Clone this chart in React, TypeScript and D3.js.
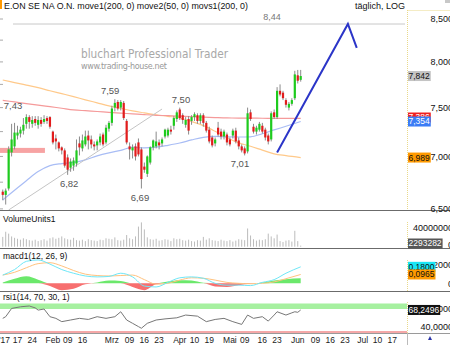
import React, { useEffect, useRef } from "react";
import * as d3 from "d3";

// daily candles, 09.01.2017 .. 02.06.2017
const opens = [
  6.66, 6.63, 6.69, 7.04, 7.1, 7.21, 7.23, 7.26, 7.33, 7.4, 7.33, 7.38, 7.32, 7.37, 7.35, 7.39, 7.4,
  7.25, 7.18, 7.14, 7.09, 7.06, 6.99, 6.89, 6.91, 6.93, 7.13, 7.08, 7.12, 7.21, 7.17, 7.12, 7.11, 7.14,
  7.22, 7.14, 7.28, 7.34, 7.5, 7.56, 7.5, 7.55, 7.36, 7.1, 7.06, 7.1, 7.14, 7.07, 6.9, 6.83, 6.94, 7.09,
  7.1, 7.14, 7.13, 7.2, 7.21, 7.27, 7.31, 7.38, 7.48, 7.42, 7.32, 7.38, 7.36, 7.4, 7.42, 7.36, 7.42,
  7.34, 7.27, 7.19, 7.13, 7.29, 7.25, 7.2, 7.22, 7.17, 7.21, 7.26, 7.16, 7.1, 7.08, 7.05, 7.45, 7.3,
  7.25, 7.27, 7.31, 7.27, 7.21, 7.17, 7.45, 7.4, 7.68, 7.66, 7.58, 7.5, 7.54, 7.6, 7.85, 7.8,
];
const highs = [
  6.68, 6.69, 7.1, 7.33, 7.34, 7.31, 7.3, 7.39, 7.43, 7.42, 7.41, 7.41, 7.41, 7.4, 7.42, 7.41, 7.41,
  7.26, 7.22, 7.15, 7.1, 7.08, 7.02, 6.98, 6.99, 7.17, 7.2, 7.22, 7.26, 7.26, 7.21, 7.15, 7.17, 7.23,
  7.24, 7.32, 7.36, 7.52, 7.59, 7.58, 7.58, 7.57, 7.38, 7.14, 7.12, 7.13, 7.18, 7.09, 6.94, 7.01, 7.1,
  7.17, 7.25, 7.17, 7.19, 7.28, 7.29, 7.31, 7.41, 7.47, 7.5, 7.44, 7.4, 7.41, 7.42, 7.45, 7.44, 7.44,
  7.44, 7.36, 7.3, 7.21, 7.19, 7.35, 7.28, 7.27, 7.24, 7.19, 7.28, 7.29, 7.19, 7.12, 7.1, 7.5, 7.48,
  7.33, 7.31, 7.35, 7.34, 7.29, 7.23, 7.46, 7.48, 7.72, 7.75, 7.68, 7.6, 7.56, 7.6, 7.9, 7.91, 7.91,
];
const lows = [
  6.58, 6.54, 6.67, 7.0, 7.07, 7.17, 7.19, 7.22, 7.28, 7.28, 7.29, 7.31, 7.28, 7.3, 7.33, 7.33, 7.28,
  7.12, 7.07, 7.05, 7.02, 6.89, 6.82, 6.85, 6.86, 6.9, 7.01, 7.05, 7.1, 7.07, 7.08, 7.06, 7.06, 7.11,
  7.1, 7.12, 7.25, 7.31, 7.46, 7.47, 7.47, 7.37, 7.12, 6.97, 6.98, 6.96, 7.0, 6.69, 6.84, 6.8, 6.92,
  7.06, 7.08, 7.07, 7.1, 7.18, 7.19, 7.22, 7.27, 7.35, 7.37, 7.33, 7.29, 7.22, 7.32, 7.36, 7.33, 7.33,
  7.3, 7.24, 7.13, 7.09, 7.1, 7.2, 7.17, 7.17, 7.11, 7.1, 7.18, 7.13, 7.07, 7.04, 7.01, 7.03, 7.36,
  7.23, 7.22, 7.25, 7.23, 7.16, 7.12, 7.15, 7.38, 7.38, 7.62, 7.58, 7.5, 7.47, 7.52, 7.58, 7.76, 7.78,
];
const closes = [
  6.63, 6.67, 7.07, 7.17, 7.24, 7.24, 7.27, 7.32, 7.4, 7.35, 7.37, 7.34, 7.37, 7.33, 7.38, 7.36, 7.3,
  7.14, 7.15, 7.08, 7.06, 6.91, 6.87, 6.95, 6.96, 7.06, 7.09, 7.16, 7.2, 7.16, 7.12, 7.1, 7.15, 7.2,
  7.12, 7.29, 7.34, 7.49, 7.55, 7.49, 7.56, 7.39, 7.14, 7.07, 7.09, 7.0, 7.02, 6.78, 6.87, 7.0, 7.09,
  7.16, 7.15, 7.11, 7.17, 7.27, 7.27, 7.25, 7.39, 7.45, 7.39, 7.37, 7.37, 7.26, 7.4, 7.43, 7.36, 7.42,
  7.34, 7.26, 7.15, 7.11, 7.17, 7.22, 7.2, 7.25, 7.14, 7.12, 7.26, 7.15, 7.1, 7.06, 7.03, 7.44, 7.38,
  7.25, 7.29, 7.33, 7.25, 7.19, 7.15, 7.44, 7.4, 7.68, 7.64, 7.6, 7.53, 7.54, 7.58, 7.86, 7.79, 7.842,
];
// volume in millions
const volumes = [
  21, 32, 28, 22, 19, 17, 15, 18, 16, 14, 13, 15, 12, 14, 16, 13, 18, 20, 17, 19, 22, 18, 16, 15, 19,
  14, 13, 15, 12, 16, 14, 13, 12, 15, 14, 18, 17, 16, 20, 14, 13, 15, 25, 18, 16, 22, 43, 52, 37, 20,
  16, 15, 17, 13, 14, 16, 15, 12, 18, 16, 17, 14, 13, 15, 12, 11, 14, 13, 21, 15, 18, 14, 13, 12, 15,
  13, 12, 14, 11, 13, 16, 15, 14, 39, 24, 16, 13, 15, 14, 16, 28, 22, 18, 26, 12, 10, 13, 14, 11, 34,
  12, 2.293282,
];

// indicator samples (candle index)
const sampleIdx = [0, 4, 8, 12, 16, 20, 24, 28, 32, 36, 40, 44, 48, 52, 56, 60, 64, 68, 72, 76, 80, 84, 88, 92, 96, 101];
const move1 = [
  7.577, 7.56, 7.543, 7.527, 7.51, 7.493, 7.476, 7.467, 7.459, 7.45, 7.442, 7.434, 7.426, 7.419, 7.415,
  7.41, 7.404, 7.4, 7.395, 7.391, 7.39, 7.389, 7.388, 7.387, 7.386, 7.386,
];
const move2 = [
  7.798, 7.77, 7.742, 7.714, 7.681, 7.649, 7.617, 7.583, 7.551, 7.519, 7.492, 7.465, 7.444, 7.423, 7.408,
  7.391, 7.353, 7.311, 7.253, 7.189, 7.135, 7.101, 7.063, 7.026, 7.008, 6.989,
];
const movs1 = [
  6.583, 6.673, 6.764, 6.852, 6.91, 6.93, 6.941, 6.966, 7.006, 7.036, 7.06, 7.092, 7.085, 7.092, 7.111,
  7.134, 7.165, 7.192, 7.202, 7.196, 7.195, 7.197, 7.228, 7.267, 7.305, 7.354,
];
const macdLine = [
  0.09, 0.15, 0.24, 0.255, 0.21, 0.15, 0.11, 0.08, 0.07, 0.075, 0.11, 0.07, -0.03, -0.04, 0.01, 0.06,
  0.07, 0.055, 0.0, -0.02, -0.02, -0.025, 0.01, 0.04, 0.11, 0.18,
];
const macdSignal = [
  0.09, 0.12, 0.17, 0.215, 0.225, 0.19, 0.14, 0.1, 0.085, 0.08, 0.085, 0.09, 0.04, -0.01, 0.0, 0.035,
  0.06, 0.055, 0.035, 0.01, 0.0, -0.005, 0.0, 0.015, 0.05, 0.0965,
];
const macdHist = [
  0.01, 0.05, 0.077, 0.04, -0.03, -0.075, -0.06, -0.01, 0.01, 0.03, 0.025, -0.04, -0.075, -0.01, 0.02,
  0.033, 0.03, 0.005, -0.035, -0.04, -0.02, -0.005, 0.01, 0.03, 0.045, 0.055,
];
const rsiIdx = [
  0, 1, 3, 6, 9, 11, 12, 14, 16, 18, 20, 23, 26, 29, 32, 35, 38, 40, 42, 44, 46, 47, 49, 52, 55, 59, 62,
  66, 69, 72, 75, 78, 81, 83, 85, 88, 90, 92, 93, 96, 98, 99, 100, 101,
];
const rsiVals = [
  53, 56, 71, 74, 75.5, 72, 68, 70, 56, 53, 47, 50, 53, 51, 56, 53, 56, 65, 50, 44, 38, 35, 44, 50, 52,
  54, 59, 57, 47, 51, 53, 47, 42, 59, 53, 56, 48, 59, 65, 59, 63, 65, 64, 68.2496,
];

const priceTicks = [8.5, 8.0, 7.5, 7.0, 6.5];
const dateLabels = ["'17", "17", "24", "Feb", "09", "16", "Mrz", "09", "16", "23", "Apr", "10", "19", "Mai", "09", "16", "23", "Jun", "09", "16", "23", "Jul", "10", "17"];
const dateIdx = [0.6, 5, 10, 17, 22, 27, 37, 43, 48, 53, 60, 65, 70, 77, 82, 88, 93, 100, 106, 111, 116, 122, 127, 132];

const extremeText = ["7,43", "7,59", "7,50", "6,82", "6,69", "7,01"];
const extremeIdx = [3.5, 36.4, 60.4, 22.5, 46.5, 80.4];
const extremePrice = [7.43, 7.59, 7.5, 6.82, 6.69, 7.01];

const trendIdx = [2, 54];
const trendPrice = [6.49, 7.485];
const drawIdx = [93, 117, 120];
const drawPrice = [7.04, 8.44, 8.16];
const levelPrice = 8.44;
const gapBand = { from: -1, to: 14.3, lo: 7.035, hi: 7.085 };

const FONT = "'Liberation Sans', Arial, sans-serif";
const W = 450;
const H = 345;
const AX = 407;

const comma = (v: number, d: number) => d3.format(`.${d}f`)(v).replace(".", ",");

const App = () => {
  const svgRef = useRef<SVGSVGElement | null>(null);

  useEffect(() => {
    const svg = d3.select(svgRef.current);
    svg.selectAll("*").remove();
    svg.attr("width", W).attr("height", H).style("font-family", FONT);

    const x = d3.scaleLinear().domain([0, 100]).range([2.75, 297.75]);
    const yP = d3.scaleLog().domain([6.5, 8.5]).range([208.9, 19]);
    const yV = d3.scaleLinear().domain([0, 40]).range([246.7, 228]);
    const yM = d3.scaleLinear().domain([0, 0.2]).range([283.3, 265]);
    const yR = d3.scaleLinear().domain([40, 70]).range([325.5, 309]);

    svg.append("rect").attr("width", W).attr("height", H).attr("fill", "#fff");

    const defs = svg.append("defs");
    const panes = [
      { id: "cMain", y0: 11, y1: 210 },
      { id: "cVol", y0: 211, y1: 248 },
      { id: "cMacd", y0: 249, y1: 291 },
      { id: "cRsi", y0: 292, y1: 333 },
    ];
    panes.forEach((p) =>
      defs
        .append("clipPath")
        .attr("id", p.id)
        .append("rect")
        .attr("x", 0)
        .attr("y", p.y0)
        .attr("width", AX)
        .attr("height", p.y1 - p.y0)
    );

    // ---- title
    svg.append("rect").attr("x", 0).attr("y", 0).attr("width", 2).attr("height", 9).attr("fill", "#ff9900");
    svg
      .append("text")
      .attr("x", 4)
      .attr("y", 8.5)
      .attr("textLength", 244)
      .attr("lengthAdjust", "spacingAndGlyphs")
      .style("font-size", "9px")
      .attr("fill", "#111")
      .text("E.ON SE NA O.N. move1(200, 0) move2(50, 0) movs1(200, 0)");
    svg
      .append("text")
      .attr("x", 355)
      .attr("y", 8.5)
      .style("font-size", "9px")
      .attr("fill", "#111")
      .text("täglich, LOG");
    svg.append("rect").attr("x", 445).attr("y", 0).attr("width", 5).attr("height", 3).attr("fill", "#c8c8c8");

    // ---- main pane
    const main = svg.append("g").attr("clip-path", "url(#cMain)");

    main
      .append("text")
      .attr("x", 81)
      .attr("y", 58)
      .attr("textLength", 147)
      .attr("lengthAdjust", "spacingAndGlyphs")
      .style("font-size", "13px")
      .style("font-family", "'DejaVu Sans', sans-serif")
      .attr("fill", "#a8a8a8")
      .text("bluchart Professional Trader");
    main
      .append("text")
      .attr("x", 81)
      .attr("y", 69)
      .attr("textLength", 86)
      .style("font-size", "8px")
      .style("font-family", "'DejaVu Sans', sans-serif")
      .attr("fill", "#999")
      .text("www.trading-house.net");

    // left ticks
    main
      .selectAll(".lt")
      .data(d3.range(6.5, 8.51, 0.25))
      .enter()
      .append("line")
      .attr("x1", 0)
      .attr("x2", 3)
      .attr("y1", (d) => yP(d))
      .attr("y2", (d) => yP(d))
      .attr("stroke", "#aaa");

    // gap band
    main
      .append("rect")
      .attr("x", x(gapBand.from))
      .attr("width", x(gapBand.to) - x(gapBand.from))
      .attr("y", yP(gapBand.hi))
      .attr("height", yP(gapBand.lo) - yP(gapBand.hi))
      .attr("fill", "#f7a3a3");

    // level line 8.44
    main
      .append("line")
      .attr("x1", 13)
      .attr("x2", AX - 2)
      .attr("y1", yP(levelPrice))
      .attr("y2", yP(levelPrice))
      .attr("stroke", "#c8c8c8");
    main
      .append("text")
      .attr("x", 272)
      .attr("y", yP(levelPrice) - 4)
      .attr("text-anchor", "middle")
      .style("font-size", "9px")
      .attr("fill", "#777")
      .text(comma(levelPrice, 2));

    const maLine = d3
      .line<number>()
      .x((d, k) => x(sampleIdx[k]))
      .y((d) => yP(d))
      .curve(d3.curveMonotoneX);

    main.append("path").attr("d", maLine(move2)).attr("fill", "none").attr("stroke", "#ffc98a").attr("stroke-width", 1.2);
    main.append("path").attr("d", maLine(move1)).attr("fill", "none").attr("stroke", "#f59a9a").attr("stroke-width", 1.2);
    main.append("path").attr("d", maLine(movs1)).attr("fill", "none").attr("stroke", "#a9bdf5").attr("stroke-width", 1.2);

    // trend line
    main
      .append("line")
      .attr("x1", x(trendIdx[0]))
      .attr("y1", yP(trendPrice[0]))
      .attr("x2", x(trendIdx[1]))
      .attr("y2", yP(trendPrice[1]))
      .attr("stroke", "#c4c4c4");

    // candles
    const candles = closes.map((c, i) => ({ i, o: opens[i], h: highs[i], l: lows[i], c }));
    main
      .selectAll(".wick")
      .data(candles)
      .enter()
      .append("line")
      .attr("x1", (d) => x(d.i))
      .attr("x2", (d) => x(d.i))
      .attr("y1", (d) => yP(d.h))
      .attr("y2", (d) => yP(d.l))
      .attr("stroke", "#8a8a8a")
      .attr("stroke-width", 1);
    main
      .selectAll(".body")
      .data(candles)
      .enter()
      .append("rect")
      .attr("x", (d) => x(d.i) - 1.1)
      .attr("width", 2.2)
      .attr("y", (d) => yP(Math.max(d.o, d.c)))
      .attr("height", (d) => Math.max(1, Math.abs(yP(d.o) - yP(d.c))))
      .attr("fill", (d) => (d.c >= d.o ? "#1ecb1e" : "#e21c1c"));

    // drawn line
    const drawLine = d3
      .line<number>()
      .x((d, k) => x(drawIdx[k]))
      .y((d) => yP(d));
    main.append("path").attr("d", drawLine(drawPrice)).attr("fill", "none").attr("stroke", "#2b35c8").attr("stroke-width", 2);

    // high / low labels
    extremeText.forEach((t, k) => {
      const isHigh = k < 3;
      main
        .append("text")
        .attr("x", x(extremeIdx[k]))
        .attr("y", isHigh ? yP(extremePrice[k]) - 5 : yP(extremePrice[k]) + 12)
        .attr("text-anchor", "middle")
        .style("font-size", "9.5px")
        .attr("fill", "#555")
        .text(t);
    });

    // ---- volume
    const vol = svg.append("g").attr("clip-path", "url(#cVol)");
    vol
      .selectAll(".v")
      .data(volumes)
      .enter()
      .append("rect")
      .attr("x", (d, i) => x(i) - 0.5)
      .attr("width", 1)
      .attr("y", (d) => yV(d))
      .attr("height", (d) => yV(0) - yV(d))
      .attr("fill", "#bcbcbc");

    // ---- macd
    const macd = svg.append("g").attr("clip-path", "url(#cMacd)");
    const histArea = (sign: number) =>
      d3
        .area<number>()
        .x((d, k) => x(sampleIdx[k]))
        .y0(yM(0))
        .y1((d) => yM(sign > 0 ? Math.max(0, d) : Math.min(0, d)))
        .curve(d3.curveMonotoneX);
    macd.append("path").attr("d", histArea(1)(macdHist)).attr("fill", "#6be86b");
    macd.append("path").attr("d", histArea(-1)(macdHist)).attr("fill", "#f76f6f");
    const mLine = d3
      .line<number>()
      .x((d, k) => x(sampleIdx[k]))
      .y((d) => yM(d))
      .curve(d3.curveMonotoneX);
    macd.append("path").attr("d", mLine(macdSignal)).attr("fill", "none").attr("stroke", "#ffc27e");
    macd.append("path").attr("d", mLine(macdLine)).attr("fill", "none").attr("stroke", "#6fe7f7");

    // ---- rsi
    const rsi = svg.append("g").attr("clip-path", "url(#cRsi)");
    rsi
      .append("rect")
      .attr("x", 0)
      .attr("width", AX)
      .attr("y", yR(80))
      .attr("height", yR(70) - yR(80))
      .attr("fill", "#a6f0a0");
    rsi
      .append("rect")
      .attr("x", 0)
      .attr("width", AX)
      .attr("y", yR(30))
      .attr("height", yR(20) - yR(30))
      .attr("fill", "#f5a8a8");
    const rLine = d3
      .line<number>()
      .x((d, k) => x(rsiIdx[k]))
      .y((d) => yR(d));
    rsi.append("path").attr("d", rLine(rsiVals)).attr("fill", "none").attr("stroke", "#777").attr("stroke-width", 1);

    // ---- pane titles
    [
      { t: "VolumeUnits1", y: 222 },
      { t: "macd1(12, 26, 9)", y: 259 },
      { t: "rsi1(14, 70, 30, 1)", y: 300 },
    ].forEach((p) =>
      svg.append("text").attr("x", 3).attr("y", p.y).style("font-size", "8.5px").attr("fill", "#111").text(p.t)
    );

    // ---- separators
    [210.5, 248.5, 291.5].forEach((yy) =>
      svg.append("line").attr("x1", 0).attr("x2", W).attr("y1", yy).attr("y2", yy).attr("stroke", "#6b6b6b").attr("stroke-width", 1.2)
    );
    svg.append("line").attr("x1", 0).attr("x2", W).attr("y1", 333.5).attr("y2", 333.5).attr("stroke", "#9a9a9a");

    // ---- right axis panel borders
    const dotted = (x1: number, y1: number, x2: number, y2: number) =>
      svg
        .append("line")
        .attr("x1", x1)
        .attr("y1", y1)
        .attr("x2", x2)
        .attr("y2", y2)
        .attr("stroke", "#e9d98a")
        .attr("stroke-dasharray", "1,1");
    dotted(AX + 0.5, 10, AX + 0.5, 210);
    dotted(AX + 0.5, 10.5, W, 10.5);
    dotted(AX + 0.5, 222, AX + 0.5, 248);
    dotted(AX + 0.5, 260, AX + 0.5, 291);
    dotted(AX + 0.5, 302, AX + 0.5, 333);

    const axisLabel = (yy: number, t: string, xEnd = 453) =>
      svg
        .append("text")
        .attr("x", xEnd)
        .attr("y", yy)
        .attr("dy", "0.35em")
        .attr("text-anchor", "end")
        .style("font-size", "9px")
        .attr("fill", "#111")
        .text(t);

    const box = (yy: number, t: string, fill: string, color: string) => {
      const r = svg.append("rect").attr("x", 408).attr("y", yy - 5).attr("height", 10).attr("fill", fill);
      const tx = svg
        .append("text")
        .attr("x", 408.5)
        .attr("y", yy)
        .attr("dy", "0.35em")
        .style("font-size", "8.5px")
        .attr("fill", color)
        .text(t);
      const node = tx.node() as SVGTextElement | null;
      const tw = node ? node.getComputedTextLength() : 24;
      r.attr("width", tw + 1.5);
    };

    priceTicks.forEach((p) => axisLabel(yP(p), comma(p, 3)));
    const last = closes.length - 1;
    const m1 = move1[move1.length - 1];
    const s1 = movs1[movs1.length - 1];
    box(yP(s1) - 4, comma(m1, 3), "#f02020", "#fff");
    box(yP(s1), comma(s1, 3), "#3b7cf5", "#fff");
    box(yP(move2[move2.length - 1]), comma(move2[move2.length - 1], 3), "#ff9a00", "#111");
    box(yP(closes[last]), comma(closes[last], 3), "#c4c4c4", "#111");

    axisLabel(yV(40), "40000000");
    axisLabel(yV(0) - 2, "0");
    box(Math.min(yV(volumes[last]), 243.5), d3.format("d")(volumes[last] * 1e6), "#575757", "#fff");

    axisLabel(yM(0.2), "0,2000");
    axisLabel(yM(0) + 1, "0");
    box(yM(macdLine[macdLine.length - 1]), comma(macdLine[macdLine.length - 1], 4), "#19e6f5", "#111");
    box(yM(macdSignal[macdSignal.length - 1]), comma(macdSignal[macdSignal.length - 1], 4), "#ff9a00", "#111");

    axisLabel(yR(70), "70,0000");
    axisLabel(yR(40) + 1, "40,0000");
    box(yR(rsiVals[rsiVals.length - 1]), comma(rsiVals[rsiVals.length - 1], 4), "#111", "#fff");

    // ---- date axis
    svg
      .selectAll(".dl")
      .data(dateLabels)
      .enter()
      .append("text")
      .attr("x", (d, i) => x(dateIdx[i]))
      .attr("y", 343)
      .attr("text-anchor", "middle")
      .style("font-size", "8.5px")
      .attr("fill", "#222")
      .text((d) => d);
    svg.append("line").attr("x1", AX + 0.5).attr("x2", AX + 0.5).attr("y1", 333).attr("y2", H).attr("stroke", "#bbb");
    svg.append("path").attr("d", "M428,340 L430,336 L432,340 Z").attr("fill", "#2b35a8");
  }, []);

  return <svg ref={svgRef} style={{ position: "absolute", left: 0, top: 0 }}></svg>;
};

export default App;
